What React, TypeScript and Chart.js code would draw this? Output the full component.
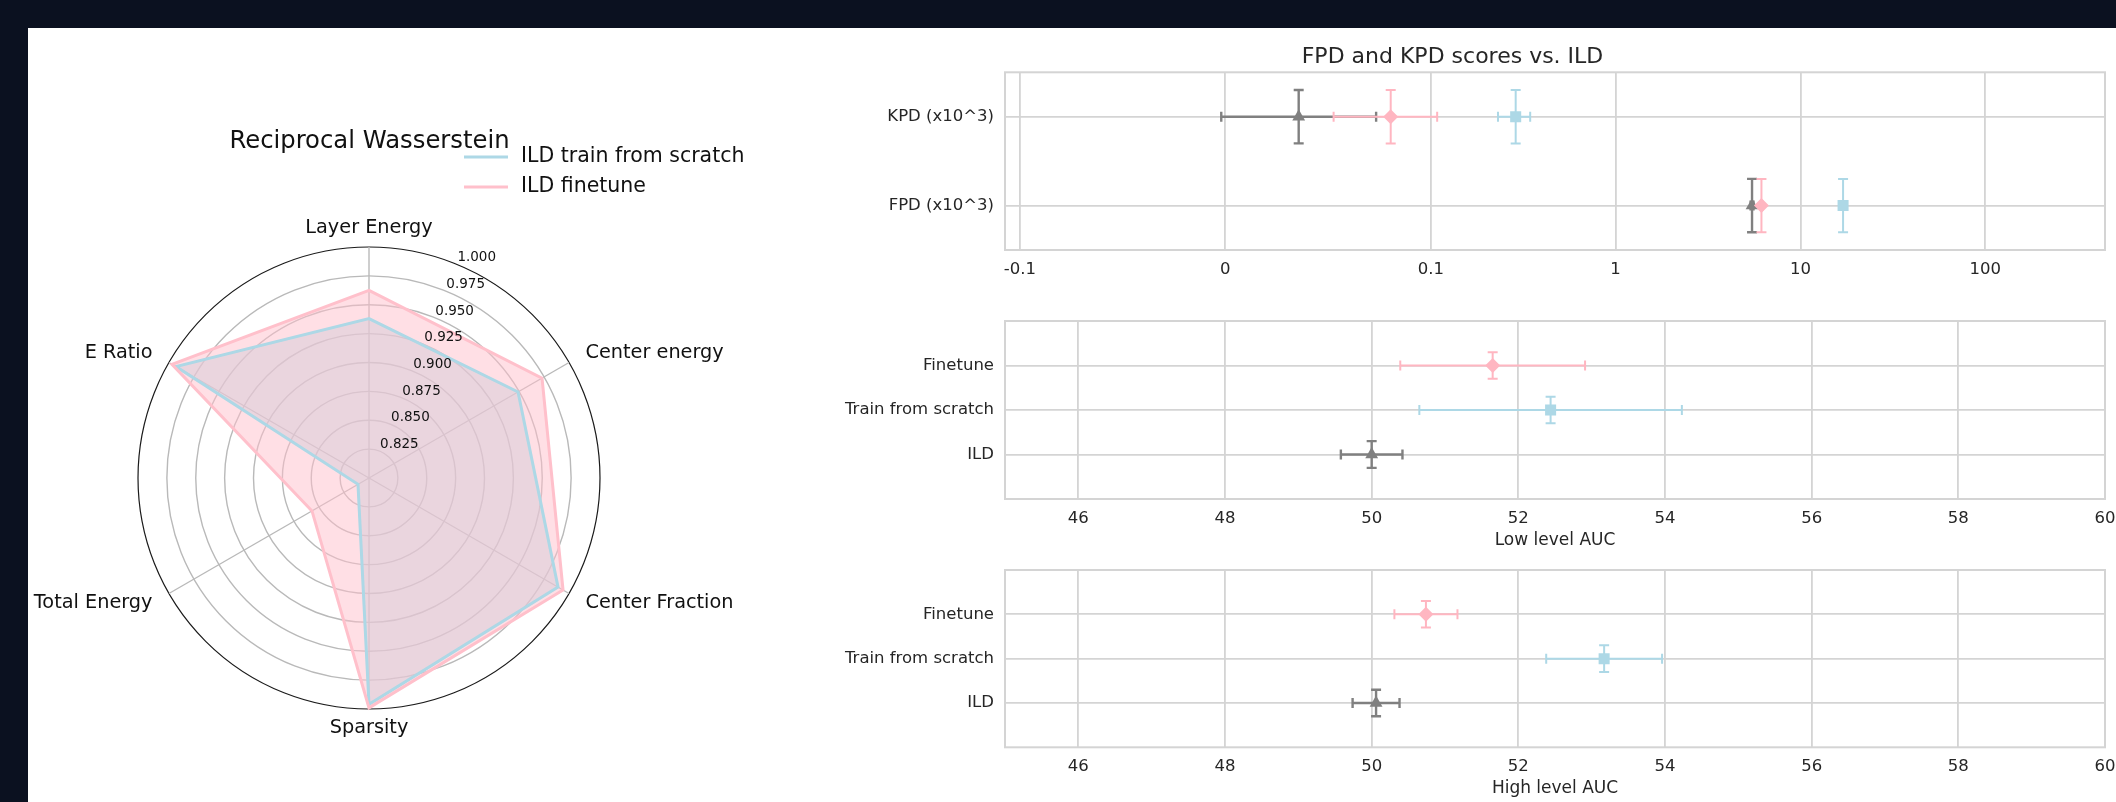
import React, { useEffect, useRef } from 'react';
import { Chart, registerables, LinearScale } from 'chart.js';

// ---------------- data ----------------
const RADAR_LABELS = ['Layer Energy', 'Center energy', 'Center Fraction', 'Sparsity', 'Total Energy', 'E Ratio'];
const RADAR_SCRATCH = [0.938, 0.949, 0.989, 0.996, 0.811, 0.993];
const RADAR_FINETUNE = [0.9625, 0.973, 0.994, 0.999, 0.857, 0.997];
const RADAR_TICKS = [0.825, 0.85, 0.875, 0.9, 0.925, 0.95, 0.975, 1.0];
const RADAR_TICK_LABELS = ['0.825', '0.850', '0.875', '0.900', '0.925', '0.950', '0.975', '1.000'];
const RADAR_SERIES = ['ILD train from scratch', 'ILD finetune'];

const SCORE_CATEGORIES = ['FPD (x10^3)', 'KPD (x10^3)'];
const SCORE_TICKS = [-0.1, 0, 0.1, 1, 10, 100];
const SCORE_TICK_LABELS = ['-0.1', '0', '0.1', '1', '10', '100'];
const ILD_SCORES = [5.47, 0.0357];
const ILD_SCORE_ERR = [0.1, 0.0377];
const SCRATCH_SCORES = [17.0, 0.288];
const SCRATCH_SCORE_ERR = [0.3, 0.057];
const FINETUNE_SCORES = [6.15, 0.0805];
const FINETUNE_SCORE_ERR = [0.1, 0.0278];

const MODELS = ['ILD', 'Train from scratch', 'Finetune'];
const AUC_TICKS = [46, 48, 50, 52, 54, 56, 58, 60];
const LOW_AUC = [50.0, 52.44, 51.65];
const LOW_AUC_ERR = [0.42, 1.79, 1.26];
const HIGH_AUC = [50.06, 53.17, 50.74];
const HIGH_AUC_ERR = [0.32, 0.79, 0.43];
const Y_ERR = 0.3;

// ---------------- styles ----------------
const FONT = "'DejaVu Sans', 'Liberation Sans', sans-serif";
const GRID = '#d4d4d4';
const TEXT = '#262626';
const MODEL_COLORS = ['#808080', '#add8e6', '#ffb6c1'];
const MODEL_MARKERS = ['triangle', 'rect', 'rectRot'];
const MODEL_RADII = [7.4, 7.8, 7.5];
const MODEL_ORDER = [2, 1, 0];

Chart.defaults.font.family = FONT;

// ---------------- symlog scale (matplotlib-like, linthresh 0.1) ----------------
const LINTHRESH = 0.1;
const LINSCALE = 1 / (1 - 1 / 10);
function symT(v: number): number {
  const a = Math.abs(v);
  if (a <= LINTHRESH) return (v / LINTHRESH) * LINSCALE;
  return Math.sign(v) * (LINSCALE + Math.log10(a / LINTHRESH));
}
function symInv(t: number): number {
  const a = Math.abs(t);
  if (a <= LINSCALE) return (t / LINSCALE) * LINTHRESH;
  return Math.sign(t) * LINTHRESH * Math.pow(10, a - LINSCALE);
}

class SymlogScale extends (LinearScale as any) {
  static id = 'symlog';
  static defaults = {};
  buildTicks() {
    return [];
  }
  configure() {
    super.configure();
    (this as any)._t0 = symT((this as any).min);
    (this as any)._tr = symT((this as any).max) - (this as any)._t0 || 1;
  }
  getPixelForValue(value: number) {
    const self = this as any;
    return self.getPixelForDecimal((symT(value) - self._t0) / self._tr);
  }
  getValueForPixel(pixel: number) {
    const self = this as any;
    return symInv(self._t0 + self.getDecimalForPixel(pixel) * self._tr);
  }
}

Chart.register(...registerables, SymlogScale as any);

// ---------------- plugins ----------------
const errorBarPlugin = {
  id: 'errorBars',
  beforeDatasetDraw(chart: any, args: any) {
    const ds = chart.data.datasets[args.index];
    if (!ds.xErr) return;
    const xs = chart.scales.x;
    const ys = chart.scales.y;
    const ctx = chart.ctx;
    const cap = 5;
    ctx.save();
    ctx.strokeStyle = ds.borderColor;
    ctx.lineWidth = ds.errWidth || 2;
    ds.data.forEach((p: any, i: number) => {
      const ex = ds.xErr[i];
      const ey = ds.yErr;
      const px = xs.getPixelForValue(p.x);
      const py = ys.getPixelForValue(p.y);
      const x0 = xs.getPixelForValue(p.x - ex);
      const x1 = xs.getPixelForValue(p.x + ex);
      const y0 = ys.getPixelForValue(p.y + ey);
      const y1 = ys.getPixelForValue(p.y - ey);
      ctx.beginPath();
      ctx.moveTo(x0, py); ctx.lineTo(x1, py);
      ctx.moveTo(x0, py - cap); ctx.lineTo(x0, py + cap);
      ctx.moveTo(x1, py - cap); ctx.lineTo(x1, py + cap);
      ctx.moveTo(px, y0); ctx.lineTo(px, y1);
      ctx.moveTo(px - cap, y0); ctx.lineTo(px + cap, y0);
      ctx.moveTo(px - cap, y1); ctx.lineTo(px + cap, y1);
      ctx.stroke();
    });
    ctx.restore();
  },
};

const framePlugin = {
  id: 'frame',
  beforeDatasetsDraw(chart: any) {
    const { left, top, right, bottom } = chart.chartArea;
    const ctx = chart.ctx;
    ctx.save();
    ctx.strokeStyle = GRID;
    ctx.lineWidth = 2;
    ctx.strokeRect(left, top, right - left, bottom - top);
    ctx.restore();
  },
};

const radarDecorPlugin = {
  id: 'radarDecor',
  afterDatasetsDraw(chart: any) {
    const r = chart.scales.r;
    const ctx = chart.ctx;
    ctx.save();
    // radial tick labels, along 22.5 deg from the top
    ctx.font = `13.5px ${FONT}`;
    ctx.fillStyle = '#111';
    ctx.textAlign = 'left';
    ctx.textBaseline = 'bottom';
    const a = (22.5 * Math.PI) / 180;
    RADAR_TICKS.forEach((v, i) => {
      const d = r.getDistanceFromCenterForValue(v);
      ctx.fillText(RADAR_TICK_LABELS[i], r.xCenter + d * Math.sin(a), r.yCenter - d * Math.cos(a));
    });
    // point labels
    ctx.font = `19.3px ${FONT}`;
    ctx.textBaseline = 'middle';
    chart.data.labels.forEach((lab: string, i: number) => {
      const p = r.getPointPosition(i, r.drawingArea + 19);
      const dx = p.x - r.xCenter;
      ctx.textAlign = Math.abs(dx) < 1 ? 'center' : dx > 0 ? 'left' : 'right';
      ctx.fillText(lab, p.x, p.y);
    });
    // legend
    ctx.font = `20.5px ${FONT}`;
    ctx.textAlign = 'left';
    ctx.textBaseline = 'middle';
    chart.data.datasets.forEach((ds: any, i: number) => {
      const y = 129 + i * 30;
      ctx.strokeStyle = ds.borderColor;
      ctx.lineWidth = 3;
      ctx.beginPath();
      ctx.moveTo(436, y);
      ctx.lineTo(480, y);
      ctx.stroke();
      ctx.fillStyle = '#111';
      ctx.fillText(ds.label, 493, y);
    });
    ctx.restore();
  },
};

// ---------------- configs ----------------
function buildRadar(): any {
  return {
    type: 'radar',
    data: {
      labels: RADAR_LABELS,
      datasets: [
        {
          label: RADAR_SERIES[0],
          data: RADAR_SCRATCH,
          borderColor: '#add8e6',
          backgroundColor: 'rgba(173,216,230,0.5)',
          fill: 'start',
          borderWidth: 3,
          pointRadius: 0,
          order: 1,
        },
        {
          label: RADAR_SERIES[1],
          data: RADAR_FINETUNE,
          borderColor: '#ffc0cb',
          backgroundColor: 'rgba(255,192,203,0.5)',
          fill: 'start',
          borderWidth: 3,
          pointRadius: 0,
          order: 0,
        },
      ],
    },
    options: {
      responsive: false,
      animation: false,
      layout: { padding: { left: 110, right: 199, top: 0, bottom: 92 } },
      plugins: {
        legend: { display: false },
        tooltip: { enabled: false },
        filler: { drawTime: 'beforeDatasetsDraw' },
        title: {
          display: true,
          text: 'Reciprocal Wasserstein',
          color: '#111',
          font: { size: 24.3, weight: 'normal', family: FONT },
          padding: { top: 99, bottom: 91.2 },
        },
      },
      scales: {
        r: {
          min: 0.8,
          max: 1.0,
          startAngle: 0,
          ticks: { display: false, stepSize: 0.025 },
          pointLabels: { display: false },
          grid: {
            circular: true,
            lineWidth: (c: any) => (c.tick && c.tick.value > 0.9999 ? 1.2 : 1.4),
            color: (c: any) => (c.tick && c.tick.value > 0.9999 ? '#1a1a1a' : '#b9b9b9'),
          },
          angleLines: { display: true, color: '#b9b9b9', lineWidth: 1.4 },
        },
      },
    },
    plugins: [radarDecorPlugin],
  };
}

function scatterDataset(k: number, points: { x: number; y: number }[], errs: number[]): any {
  return {
    label: MODELS[k],
    data: points,
    xErr: errs,
    yErr: Y_ERR,
    errWidth: k === 0 ? 2.4 : 2,
    pointStyle: MODEL_MARKERS[k],
    pointRadius: MODEL_RADII[k],
    pointHoverRadius: MODEL_RADII[k],
    backgroundColor: MODEL_COLORS[k],
    borderColor: MODEL_COLORS[k],
    borderWidth: 0,
    order: MODEL_ORDER[k],
  };
}

function yAxis(min: number, max: number, labels: string[]): any {
  return {
    type: 'linear',
    min,
    max,
    afterBuildTicks: (s: any) => {
      s.ticks = labels.map((_, i) => ({ value: i }));
    },
    afterFit: (s: any) => {
      s.width = 205;
      s.paddingTop = 0;
      s.paddingBottom = 0;
    },
    ticks: {
      callback: (_v: any, i: number) => labels[i],
      font: { size: 16.5, family: FONT },
      color: TEXT,
      padding: 11,
      autoSkip: false,
    },
    grid: { color: GRID, lineWidth: 1.8, drawTicks: false },
    border: { display: false },
  };
}

function buildScores(): any {
  const pts = (vals: number[]) => vals.map((v, i) => ({ x: v, y: i }));
  return {
    type: 'scatter',
    data: {
      datasets: [
        scatterDataset(0, pts(ILD_SCORES), ILD_SCORE_ERR),
        scatterDataset(1, pts(SCRATCH_SCORES), SCRATCH_SCORE_ERR),
        scatterDataset(2, pts(FINETUNE_SCORES), FINETUNE_SCORE_ERR),
      ],
    },
    options: {
      responsive: false,
      animation: false,
      layout: { padding: { left: 0, right: 11, top: 0, bottom: 0 } },
      plugins: {
        legend: { display: false },
        tooltip: { enabled: false },
        title: {
          display: true,
          text: 'FPD and KPD scores vs. ILD',
          color: TEXT,
          font: { size: 22, weight: 'normal', family: FONT },
          padding: { top: 16.5, bottom: 1.4 },
        },
      },
      scales: {
        x: {
          type: 'symlog',
          min: -0.1205,
          max: 444,
          afterBuildTicks: (s: any) => {
            s.ticks = SCORE_TICKS.map((v) => ({ value: v }));
          },
          afterFit: (s: any) => {
            s.height = 50;
            s.paddingLeft = 0;
            s.paddingRight = 0;
          },
          ticks: {
            callback: (_v: any, i: number) => SCORE_TICK_LABELS[i],
            font: { size: 16.5, family: FONT },
            color: TEXT,
            padding: 10,
            autoSkip: false,
            maxRotation: 0,
          },
          grid: { color: GRID, lineWidth: 1.8, drawTicks: false },
          border: { display: false },
        },
        y: yAxis(-0.5, 1.5, SCORE_CATEGORIES),
      },
    },
    plugins: [framePlugin, errorBarPlugin],
  };
}

function buildAuc(values: number[], errs: number[], title: string, padTop: number, padBottom: number, tickPad: number, titlePadBottom: number): any {
  return {
    type: 'scatter',
    data: {
      datasets: MODELS.map((_, k) => scatterDataset(k, [{ x: values[k], y: k }], [errs[k]])),
    },
    options: {
      responsive: false,
      animation: false,
      layout: { padding: { left: 0, right: 11, top: padTop, bottom: padBottom } },
      plugins: { legend: { display: false }, tooltip: { enabled: false } },
      scales: {
        x: {
          type: 'linear',
          min: 45,
          max: 60,
          afterBuildTicks: (s: any) => {
            s.ticks = AUC_TICKS.map((v) => ({ value: v }));
          },
          afterFit: (s: any) => {
            s.height = 52;
            s.paddingLeft = 0;
            s.paddingRight = 0;
          },
          ticks: {
            callback: (v: any) => String(v),
            font: { size: 16.5, family: FONT },
            color: TEXT,
            padding: tickPad,
            autoSkip: false,
            maxRotation: 0,
          },
          title: {
            display: true,
            text: title,
            color: TEXT,
            font: { size: 17, family: FONT },
            padding: { top: 0, bottom: titlePadBottom },
          },
          grid: { color: GRID, lineWidth: 1.8, drawTicks: false },
          border: { display: false },
        },
        y: yAxis(-1, 3, MODELS),
      },
    },
    plugins: [framePlugin, errorBarPlugin],
  };
}

const buildLowAuc = () => buildAuc(LOW_AUC, LOW_AUC_ERR, 'Low level AUC', 21, 0, 10, 0);
const buildHighAuc = () => buildAuc(HIGH_AUC, HIGH_AUC_ERR, 'High level AUC', 19, 2.7, 9.5, 1);

// ---------------- components ----------------
function ChartCanvas({ x, y, w, h, build }: { x: number; y: number; w: number; h: number; build: () => any }) {
  const ref = useRef<HTMLCanvasElement | null>(null);
  useEffect(() => {
    if (!ref.current) return;
    const chart = new Chart(ref.current, build());
    return () => chart.destroy();
  }, [build]);
  return (
    <canvas
      ref={ref}
      width={w}
      height={h}
      style={{ position: 'absolute', left: x, top: y, width: w, height: h, display: 'block' }}
    />
  );
}

export default function App() {
  return (
    <div
      style={{
        position: 'fixed',
        left: 0,
        top: 0,
        width: 2116,
        height: 802,
        background: '#0b1120',
        overflow: 'hidden',
      }}
    >
      <div style={{ position: 'absolute', left: 28, top: 28, right: 0, bottom: 0, background: '#ffffff' }} />
      <ChartCanvas x={28} y={28} w={772} h={774} build={buildRadar} />
      <ChartCanvas x={800} y={28} w={1316} h={272} build={buildScores} />
      <ChartCanvas x={800} y={300} w={1316} h={251} build={buildLowAuc} />
      <ChartCanvas x={800} y={551} w={1316} h={251} build={buildHighAuc} />
    </div>
  );
}
